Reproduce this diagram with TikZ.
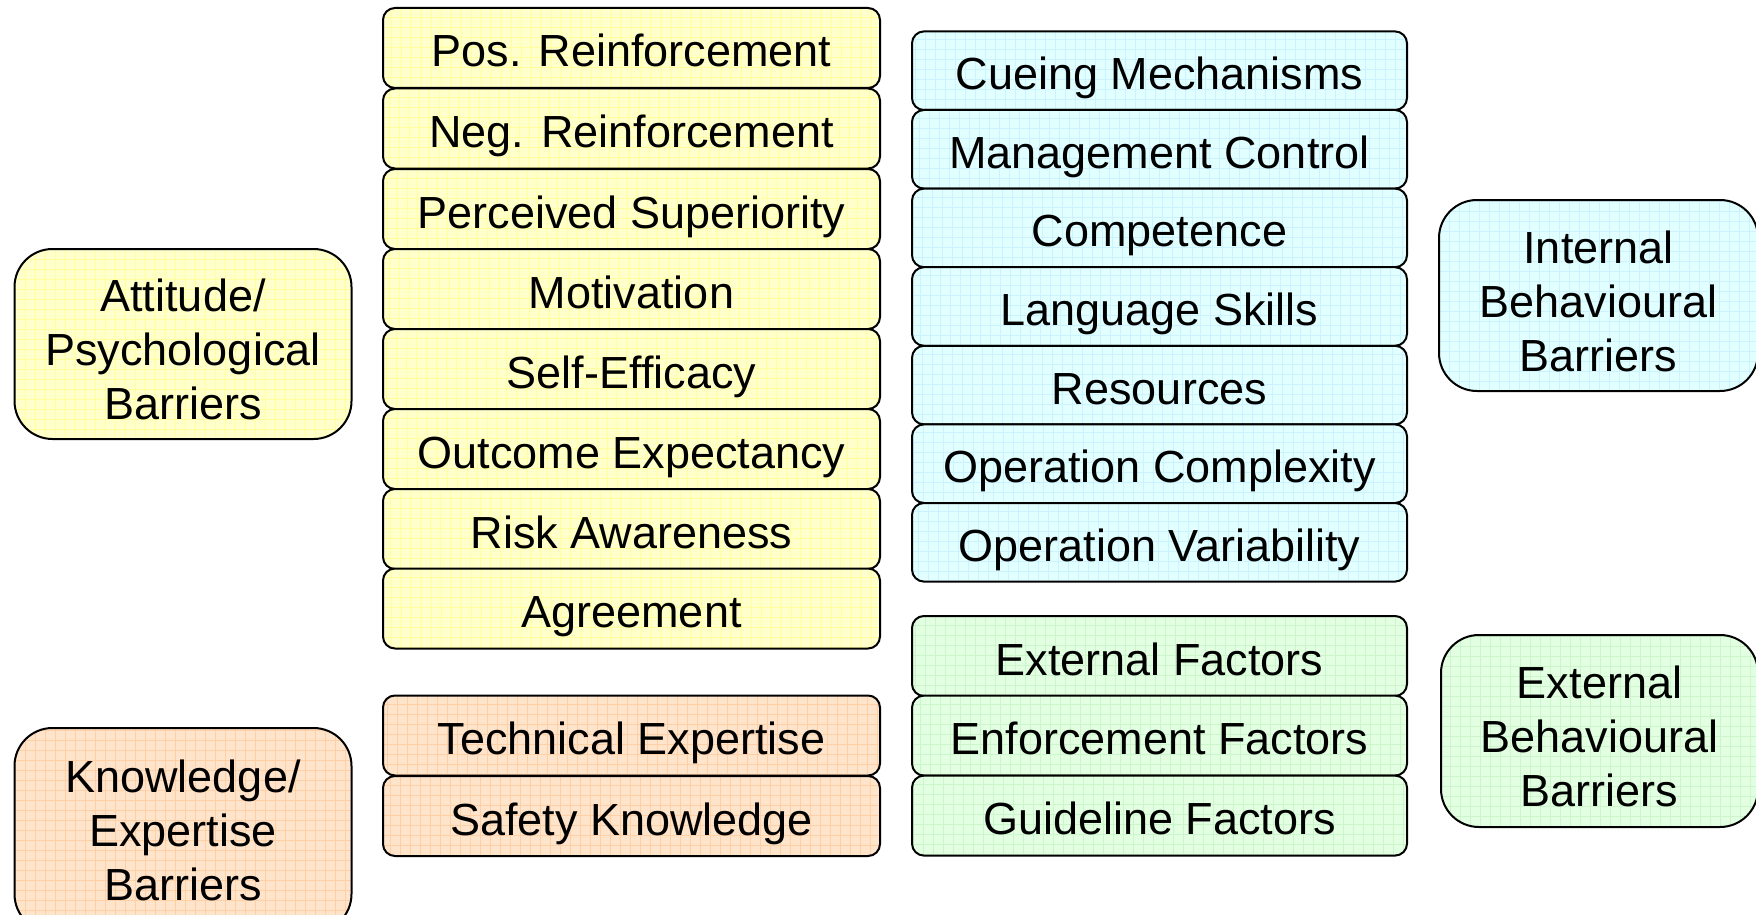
\documentclass[tikz,border=0pt]{standalone}
\usepackage{fontspec}
\setmainfont{Liberation Sans}
\definecolor{ylwfill}{HTML}{FFFFCC}
\definecolor{ylwgrid}{HTML}{FFFF9E}
\definecolor{orgfill}{HTML}{FFE4CC}
\definecolor{orggrid}{HTML}{FFD0A6}
\definecolor{blufill}{HTML}{E2FFFF}
\definecolor{blugrid}{HTML}{CCF2FF}
\definecolor{grnfill}{HTML}{E2FFE2}
\definecolor{grngrid}{HTML}{CCF5CC}
% invisible strut that lowers a three-line label a little
\newcommand{\lowerlabel}{\rule{0pt}{44pt}}
\begin{document}
\begin{tikzpicture}[x=1pt,y=-1pt,
  gridded/.style={fill=#1fill,
    path picture={\draw[#1grid, line width=0.8pt]
      (path picture bounding box.south west) grid[step=10pt]
      (path picture bounding box.north east);}},
  box/.style={draw=black, line width=2pt, inner sep=0pt, align=center,
    font=\fontsize{45}{54}\selectfont},
  cell/.style={box, rounded corners=12pt, minimum width=497pt, minimum height=80pt,
    text height=41pt, text depth=3pt},
  group/.style={box, rounded corners=38pt, minimum width=337pt, minimum height=190pt}
]
\useasboundingbox (0,0) rectangle (1756,915);

% attitude / psychological factors
\node[cell, gridded=ylw] (pos) at (631.5,48) {Pos. Reinforcement};
\node[cell, gridded=ylw] (neg) at (631.5,128.5) {Neg. Reinforcement};
\node[cell, gridded=ylw] (sup) at (631.5,209) {Perceived Superiority};
\node[cell, gridded=ylw] (mot) at (631.5,289) {Motivation};
\node[cell, gridded=ylw] (eff) at (631.5,369) {Self-Efficacy};
\node[cell, gridded=ylw] (out) at (631.5,449) {Outcome Expectancy};
\node[cell, gridded=ylw] (risk) at (631.5,529) {Risk Awareness};
\node[cell, gridded=ylw] (agr) at (631.5,608.5) {Agreement};

% knowledge / expertise factors
\node[cell, gridded=org] (tech) at (631.5,735.5) {Technical Expertise};
\node[cell, gridded=org] (safe) at (631.5,816) {Safety Knowledge};

% internal behavioural factors
\node[cell, gridded=blu, minimum width=495pt, minimum height=78.6pt] (cue) at (1159.5,70.7) {Cueing Mechanisms};
\node[cell, gridded=blu, minimum width=495pt, minimum height=78.6pt] (mgmt) at (1159.5,149.3) {Management Control};
\node[cell, gridded=blu, minimum width=495pt, minimum height=78.6pt] (comp) at (1159.5,227.9) {Competence};
\node[cell, gridded=blu, minimum width=495pt, minimum height=78.6pt] (lang) at (1159.5,306.5) {Language Skills};
\node[cell, gridded=blu, minimum width=495pt, minimum height=78.6pt] (res) at (1159.5,385.1) {Resources};
\node[cell, gridded=blu, minimum width=495pt, minimum height=78.6pt] (ocx) at (1159.5,463.7) {Operation Complexity};
\node[cell, gridded=blu, minimum width=495pt, minimum height=78.6pt] (ovar) at (1159.5,542.3) {Operation Variability};

% external behavioural factors
\node[cell, gridded=grn, minimum width=495pt] (ext) at (1159.5,656) {External Factors};
\node[cell, gridded=grn, minimum width=495pt] (enf) at (1159.5,735.6) {Enforcement Factors};
\node[cell, gridded=grn, minimum width=495pt] (guide) at (1159.5,815.6) {Guideline Factors};

% barrier groups
\node[group, gridded=ylw] (att) at (183,344) {\lowerlabel Attitude/\\Psychological\\Barriers};
\node[group, gridded=org, minimum height=204pt] (know) at (183,830) {Knowledge/\\Expertise\\Barriers};
\node[group, gridded=blu, minimum width=319pt, minimum height=191pt] (intb) at (1598.5,295.5) {\lowerlabel Internal\\Behavioural\\Barriers};
\node[group, gridded=grn, minimum width=317pt, minimum height=192pt] (extb) at (1599.5,731) {\lowerlabel External\\Behavioural\\Barriers};
\end{tikzpicture}
\end{document}
